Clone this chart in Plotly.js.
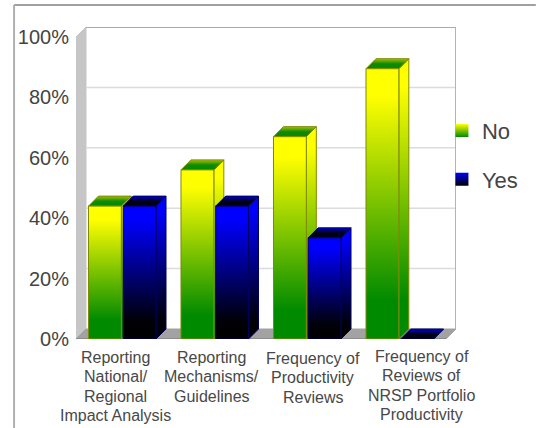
<!DOCTYPE html>
<html>
<head>
<meta charset="utf-8">
<script src="https://cdn.plot.ly/plotly-3.0.1.min.js"></script>
<style>html,body{margin:0;padding:0;background:#fff}</style>
</head>
<body>
<div id="chart" style="width:536px;height:428px"></div>
<script>
// Survey responses per topic, in percent
const categoryLines = [
  ["Reporting", "National/", "Regional", "Impact Analysis"],
  ["Reporting", "Mechanisms/", "Guidelines"],
  ["Frequency of", "Productivity", "Reviews"],
  ["Frequency of", "Reviews of", "NRSP Portfolio", "Productivity"]
];
const noValues = [44, 56, 67, 89.5];
const yesValues = [44, 44, 33.5, 0];
const tickValues = [0, 20, 40, 60, 80, 100];
const tickLabels = ["0%", "20%", "40%", "60%", "80%", "100%"];

// Oblique projection: how far the back plane is shifted, in axis units
const depthX = 0.108, depthY = 3.31;
const barWidth = 0.355, barGap = 0.02;
const xMin = -0.5, xMax = 3.5;

const noScale = [[0, "#008a00"], [0.14, "#008a00"], [0.9, "#ffff00"], [1, "#ffff00"]];
const yesScale = [[0, "#000000"], [0.14, "#000008"], [0.9, "#0000ff"], [1, "#0000ff"]];
const noTopScale = [[0, "#008a00"], [0.5, "#108c00"], [1, "#a8c000"]];
const yesTopScale = [[0, "#000010"], [0.5, "#000018"], [1, "#0000e0"]];

function face(xs, ys, scale, edge) {
  return {
    type: "scatter", mode: "lines", x: [...xs, xs[0]], y: [...ys, ys[0]],
    fill: "toself",
    fillgradient: { type: "vertical", colorscale: scale },
    line: { color: edge, width: 1 },
    hoverinfo: "skip", showlegend: false
  };
}

function solid(xs, ys, color) {
  return {
    type: "scatter", mode: "lines", x: [...xs, xs[0]], y: [...ys, ys[0]],
    fill: "toself", fillcolor: color,
    line: { color: color, width: 1 },
    hoverinfo: "skip", showlegend: false
  };
}

function bar(left, value, scale, topScale, edge) {
  const right = left + barWidth;
  const out = [];
  // side, top, then front so the front edges stay on top
  out.push(face([right, right + depthX, right + depthX, right],
                [0, depthY, value + depthY, value], scale, edge));
  out.push(face([left, right, right + depthX, left + depthX],
                [value, value, value + depthY, value + depthY], topScale, edge));
  if (value > 0) {
    out.push(face([left, right, right, left], [0, 0, value, value], scale, edge));
  }
  return out;
}

const traces = [];

// Walls and floor of the box
traces.push(solid([xMin + depthX, xMax + depthX, xMax + depthX, xMin + depthX],
                  [depthY, depthY, 100 + depthY, 100 + depthY], "#ffffff"));
traces.push(solid([xMin, xMin + depthX, xMin + depthX, xMin],
                  [0, depthY, 100 + depthY, 100], "#c6c6c6"));
traces.push(solid([xMin, xMax, xMax + depthX, xMin + depthX],
                  [0, 0, depthY, depthY], "#a2a2a2"));

// Gridlines on the back wall
tickValues.slice(1).forEach(t => {
  traces.push({
    type: "scatter", mode: "lines",
    x: [xMin + depthX, xMax + depthX], y: [t + depthY, t + depthY],
    line: { color: t === 100 ? "#aaaaaa" : "#dcdcdc", width: t === 100 ? 2 : 1.5 },
    hoverinfo: "skip", showlegend: false
  });
});
traces.push({
  type: "scatter", mode: "lines",
  x: [xMax + depthX, xMax + depthX], y: [depthY, 100 + depthY],
  line: { color: "#b4b4b4", width: 2 }, hoverinfo: "skip", showlegend: false
});
traces.push({
  type: "scatter", mode: "lines",
  x: [xMin, xMax], y: [0, 0],
  line: { color: "#777777", width: 1 }, hoverinfo: "skip", showlegend: false
});

// Bars, left member of each pair first
noValues.forEach((v, i) => {
  const start = i - barWidth - barGap / 2;
  traces.push(...bar(start, v, noScale, noTopScale, "#7f8a00"));
  traces.push(...bar(i + barGap / 2, yesValues[i], yesScale, yesTopScale, "#000060"));
});

// Legend entries
[["No", "#ffff00", "#008a00"], ["Yes", "#0000ff", "#000000"]].forEach(([name, c1, c2]) => {
  traces.push({
    type: "scatter", mode: "markers", name: name, legendgroup: name,
    x: [null], y: [null],
    marker: { symbol: "square", size: 13, color: c1,
              gradient: { type: "vertical", color: c2 } },
    hoverinfo: "skip"
  });
});

// Category captions, one annotation per line for a fixed leading
const captionCenters = [-0.068, -0.03, 0.062, 0.24];
const captionTops = [-12, -12, -13, -11];
const annotations = [];
categoryLines.forEach((lines, i) => {
  lines.forEach((text, n) => {
    annotations.push({
      x: i + captionCenters[i], y: 0, xref: "x", yref: "y",
      yanchor: "top", xanchor: "center", showarrow: false,
      text: text, yshift: captionTops[i] + 4 - n * 19.4,
      font: { family: "Liberation Sans, Arial, sans-serif", size: 16, color: "#484848" }
    });
  });
});

const layout = {
  width: 536, height: 428, autosize: false,
  margin: { l: 76, r: 80, t: 27, b: 89, pad: 0 },
  paper_bgcolor: "#ffffff", plot_bgcolor: "rgba(0,0,0,0)",
  font: { family: "Liberation Sans, Arial, sans-serif", color: "#444444" },
  xaxis: { range: [xMin, xMax + depthX], showgrid: false, zeroline: false,
           showticklabels: false, ticks: "", fixedrange: true },
  yaxis: { range: [0, 100 + depthY], showgrid: false, zeroline: false,
           tickmode: "array", tickvals: tickValues, ticktext: tickLabels,
           ticks: "outside", ticklen: 2, tickcolor: "rgba(0,0,0,0)",
           tickfont: { size: 20, color: "#444444" }, fixedrange: true },
  legend: { x: 0.963, xanchor: "left", y: 0.589, yanchor: "middle",
            tracegroupgap: 17, bgcolor: "rgba(0,0,0,0)", borderwidth: 0,
            font: { size: 22, color: "#444444" } },
  annotations: annotations,
  shapes: [
    { type: "line", xref: "paper", yref: "paper", x0: -0.163, x1: 1.21, y0: 1.0705, y1: 1.0705,
      line: { color: "#a0a0a0", width: 2 } },
    { type: "line", xref: "paper", yref: "paper", x0: -0.163, x1: -0.163, y0: 1.0705, y1: -0.29,
      line: { color: "#b0b0b0", width: 2 } }
  ]
};

Plotly.newPlot("chart", traces, layout, { displayModeBar: false, staticPlot: true });
</script>
</body>
</html>
